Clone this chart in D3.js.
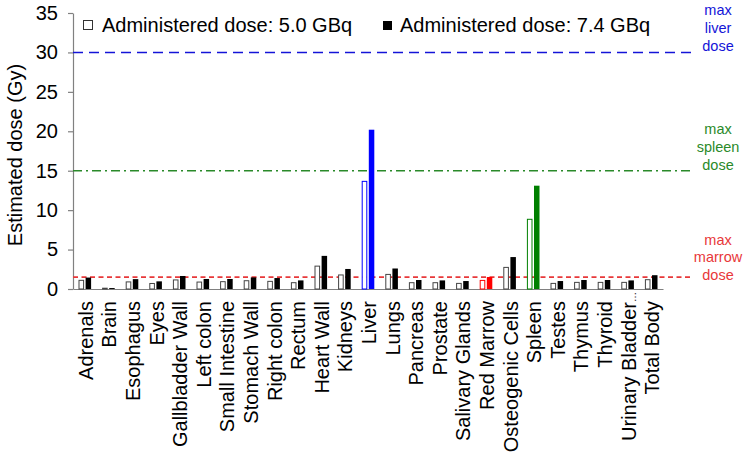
<!DOCTYPE html>
<html>
<head>
<meta charset="utf-8">
<script src="https://cdn.jsdelivr.net/npm/d3@7"></script>
<style>
  html, body { margin: 0; padding: 0; background: #fff; }
  text { font-family: "Liberation Sans", Arial, sans-serif; }
</style>
</head>
<body>
<svg id="chart" width="749" height="455"></svg>
<script>
const categories = ["Adrenals","Brain","Esophagus","Eyes","Gallbladder Wall","Left colon","Small Intestine","Stomach Wall","Right colon","Rectum","Heart Wall","Kidneys","Liver","Lungs","Pancreas","Prostate","Salivary Glands","Red Marrow","Osteogenic Cells","Spleen","Testes","Thymus","Thyroid","Urinary Bladder…","Total Body"];
const dose50 = [1.1,0.1,0.9,0.7,1.15,0.88,0.93,1.05,0.97,0.8,2.9,1.78,13.65,1.85,0.8,0.8,0.71,1.09,2.74,8.84,0.71,0.84,0.84,0.84,1.18];
const dose74 = [1.45,0.12,1.25,0.97,1.65,1.27,1.27,1.47,1.39,1.09,4.2,2.54,20.2,2.6,1.14,1.09,1.01,1.52,4.05,13.1,1.01,1.14,1.14,1.09,1.75];
const legendLabels = ["Administered dose: 5.0 GBq","Administered dose: 7.4 GBq"];
const yTicks = [0,5,10,15,20,25,30,35];
const limitNames = [["max","liver","dose"],["max","spleen","dose"],["max","marrow","dose"]];
const limitValues = [30, 15, 1.5];
const limitColors = ["#1414d8","#2a8a2a","#e8383a"];
const limitDash = ["10,6","9,4,2,4","5,3.5"];
const highlight = {"Liver":"#0000ff","Spleen":"#008000","Red Marrow":"#ff0000"};

(function () {
const svg = d3.select("#chart");
const mLeft = 73, mRight = 663, mTop = 13, mBottom = 289;

const x = d3.scaleBand().domain(categories).range([mLeft, mRight]).padding(0);
const y = d3.scaleLinear().domain([0, 35]).range([mBottom, mTop]);

const colorOf = c => highlight[c] || "#000";

// y axis
const yAxis = svg.append("g").attr("transform", `translate(${mLeft},0)`)
  .call(d3.axisLeft(y).tickValues(yTicks).tickSize(5).tickPadding(10).tickSizeOuter(0));
yAxis.select(".domain").attr("stroke", "#808080").attr("stroke-width", 1.2);
yAxis.selectAll(".tick line").attr("stroke", "#808080").attr("stroke-width", 1.2);
yAxis.selectAll(".tick text").attr("font-size", 20).attr("fill", "#000")
  .style("font-family", "'Liberation Sans', Arial, sans-serif");

// x axis
const xAxis = svg.append("g").attr("transform", `translate(0,${mBottom})`)
  .call(d3.axisBottom(x).tickSize(0).tickSizeOuter(0).tickFormat(""));
xAxis.select(".domain").attr("stroke", "#808080").attr("stroke-width", 1.2);

const labels = svg.append("g").selectAll("text").data(categories).join("text")
  .attr("transform", d => {
    const ell = d.endsWith("…");
    return `translate(${x(d) + x.bandwidth()/2 + 1},${mBottom + (ell ? 3 : 12)}) rotate(-90)`;
  })
  .attr("text-anchor", "end").attr("dy", "0.35em")
  .attr("font-size", 20).attr("fill", "#000");
labels.each(function (d) {
  const t = d3.select(this);
  if (d.endsWith("…")) {
    t.append("tspan").text(d.slice(0, -1));
    t.append("tspan").attr("font-size", 10).text("…");
  } else {
    t.text(d);
  }
});

// y title
svg.append("text")
  .attr("transform", `translate(15,${(mTop + mBottom)/2 + 4}) rotate(-90)`)
  .attr("text-anchor", "middle").attr("dy", "0.35em")
  .attr("font-size", 20).attr("fill", "#000")
  .text("Estimated dose (Gy)");

// reference lines
const labelShift = [-1, 0, 4];
limitValues.forEach((v, i) => {
  svg.append("line")
    .attr("x1", mLeft).attr("x2", 693)
    .attr("y1", y(v)).attr("y2", y(v))
    .attr("stroke", limitColors[i]).attr("stroke-width", 1.6)
    .attr("stroke-dasharray", limitDash[i]);
  const t = svg.append("text").attr("text-anchor", "middle")
    .attr("font-size", 14.5).attr("fill", limitColors[i]);
  limitNames[i].forEach((w, j) => {
    t.append("tspan").attr("x", 718)
      .attr("y", y(v) - 6 + labelShift[i] + (j - 2) * 17.8).attr("dy", "0.35em").text(w);
  });
});

// bars
const bars = svg.append("g");
bars.selectAll("rect.open").data(categories).join("rect")
  .attr("class", "open")
  .attr("x", d => x(d) + x.bandwidth()/2 - 5.8)
  .attr("width", 4.6)
  .attr("y", (d, i) => y(dose50[i]))
  .attr("height", (d, i) => mBottom - y(dose50[i]))
  .attr("fill", "#fff")
  .attr("stroke", d => highlight[d] ? colorOf(d) : "#444")
  .attr("stroke-width", 1);
bars.selectAll("rect.fill").data(categories).join("rect")
  .attr("class", "fill")
  .attr("x", d => x(d) + x.bandwidth()/2 + 0.8)
  .attr("width", 5.5)
  .attr("y", (d, i) => y(dose74[i]))
  .attr("height", (d, i) => mBottom - y(dose74[i]))
  .attr("fill", d => colorOf(d));

// legend
svg.append("rect").attr("x", 83.5).attr("y", 20.5).attr("width", 9).attr("height", 9)
  .attr("fill", "#fff").attr("stroke", "#333").attr("stroke-width", 1);
svg.append("text").attr("x", 102).attr("y", 32).attr("font-size", 20).attr("fill", "#000").text(legendLabels[0]);
svg.append("rect").attr("x", 383).attr("y", 21).attr("width", 9).attr("height", 9)
  .attr("fill", "#000");
svg.append("text").attr("x", 400).attr("y", 32).attr("font-size", 20).attr("fill", "#000").text(legendLabels[1]);
})();
</script>
</body>
</html>
